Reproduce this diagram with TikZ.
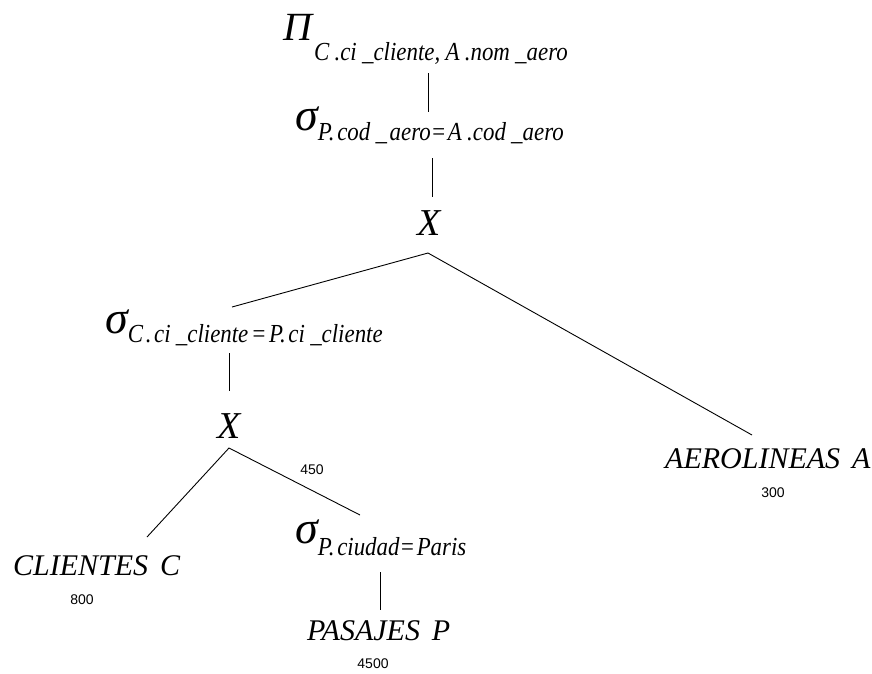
\documentclass[tikz,border=0pt]{standalone}
\usepackage{graphicx}
\usepackage{fontspec}
\setmainfont{Liberation Serif}[ItalicFont={Liberation Serif Italic}]
\newfontfamily\numfont{Liberation Sans}
\newcommand{\bigsym}[2]{{\fontsize{#1}{#1}\selectfont\itshape #2}}
\newcommand{\subtxt}[2]{\raisebox{-#1pt}{\scalebox{0.88}[1]{\fontsize{26}{26}\selectfont\itshape #2}}}
\newcommand{\gp}{\hspace{6pt}}
\tikzset{
  lbl/.style={inner sep=0pt, anchor=base west},
  rel/.style={inner sep=0pt, anchor=base west, font=\fontsize{30}{30}\selectfont\itshape},
  cross/.style={inner sep=0pt, anchor=base, font=\fontsize{38}{38}\selectfont\itshape},
  num/.style={inner sep=0pt, font=\fontsize{14}{14}\selectfont\numfont},
  edge/.style={line width=0.9pt, draw=black}
}
\begin{document}
\begin{tikzpicture}[x=1pt,y=-1pt]
\useasboundingbox (0,0) rectangle (872,673);
% labels
\node[lbl] (pi) at (283,40) {\bigsym{40}{Π}\hspace{2pt}\subtxt{20}{C\gp.ci\gp\_cliente,\gp A\gp.nom\gp\_aero}};
\node[lbl] (s1) at (295,130) {\bigsym{46}{σ}\subtxt{10}{P.\hspace{3pt}cod\gp\_\hspace{3pt}aero=\hspace{2pt}A\gp.cod\gp\_aero}};
\node[cross] (x1) at (429,235) {X};
\node[lbl] (s2) at (105,333) {\bigsym{46}{σ}\subtxt{9}{C\hspace{3pt}.\hspace{3pt}ci\gp\_cliente\hspace{3pt}=\hspace{3pt}P.\hspace{3pt}ci\gp\_cliente}};
\node[cross] (x2) at (229,438) {X};
\node[lbl] (s3) at (295,543) {\bigsym{46}{σ}\subtxt{12}{P.\hspace{3pt}ciudad=\hspace{2pt}Paris}};
\node[rel] (cli) at (13,575) {CLIENTES\hspace{0.4em}C};
\node[rel] (pas) at (307,640) {PASAJES\hspace{0.4em}P};
\node[rel] (aer) at (665,468) {AEROLINEAS\hspace{0.4em}A};
\node[num] (n800) at (82,600) {800};
\node[num] (n4500) at (373,664) {4500};
\node[num] (n300) at (773,493) {300};
\node[num] (n450) at (312,470) {450};
% connector end points
\coordinate (pi-b) at (428,73);
\coordinate (s1-t) at (428,112);
\coordinate (s1-b) at (432,158);
\coordinate (x1-t) at (432,197);
\coordinate (x1-b) at (428,253);
\coordinate (s2-t) at (232,307);
\coordinate (aer-t) at (752,435);
\coordinate (s2-b) at (229,353);
\coordinate (x2-t) at (229,391);
\coordinate (x2-b) at (229,448);
\coordinate (cli-t) at (147,537);
\coordinate (s3-t) at (360,515);
\coordinate (s3-b) at (380,572);
\coordinate (pas-t) at (380,610);
% connectors
\draw[edge] (pi-b) -- (s1-t);
\draw[edge] (s1-b) -- (x1-t);
\draw[edge] (s2-t) -- (x1-b) -- (aer-t);
\draw[edge] (s2-b) -- (x2-t);
\draw[edge] (cli-t) -- (x2-b) -- (s3-t);
\draw[edge] (s3-b) -- (pas-t);
\end{tikzpicture}
\end{document}
